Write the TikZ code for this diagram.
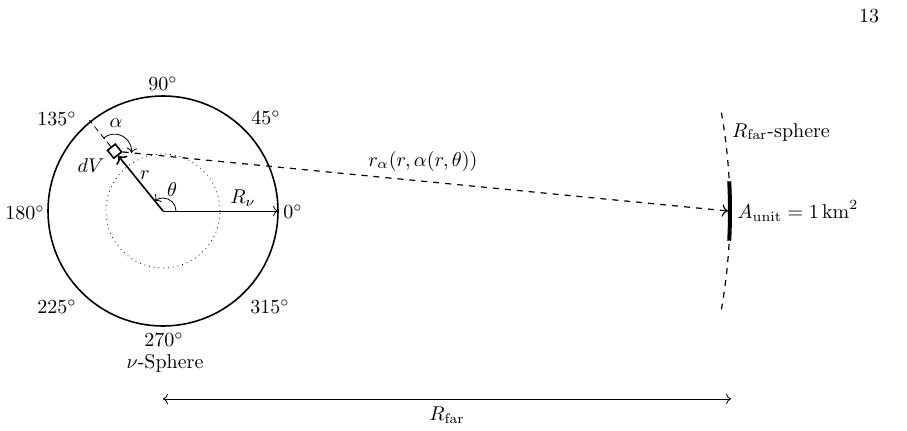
\documentclass[tikz,border=0pt]{standalone}
\usetikzlibrary{arrows.meta,calc}
\begin{document}
\begin{tikzpicture}[x=0.5pt,y=0.5pt,
  lbl/.style={inner sep=0,anchor=center},
  dvbox/.style={draw,thick,minimum size=5pt,inner sep=0,rotate=39}]
\useasboundingbox (0,0) rectangle (907,430);
\coordinate (C) at (163,219);
% main sphere
\draw[thick] (C) circle[radius=115];
\draw[dotted] (C) circle[radius=57];
% volume element
\node[dvbox] (dV) at ($(C)+(129:77)$) {};
\coordinate (P) at ($(C)+(129:117)$);
\coordinate (E) at ($(C)+(0:115)$);
\coordinate (Tin) at ($(C)+(0:565)$);
% far sphere
\draw[semithick,dashed] ($(C)+(10:567)$) arc[start angle=10,end angle=-10,radius=567];
\draw[line width=2pt] ($(C)+(3:567)$) arc[start angle=3,end angle=-3,radius=567];
% connectors
\draw[densely dashed] (dV) -- (P);
\draw[thick,->] (C) -- (dV);
\draw[->] (C) -- (E);
\draw[semithick,dashed,->] (dV) -- (Tin);
\draw[->] ($(C)+(0:13)$) arc[start angle=0,end angle=129,radius=13];
\draw[->] ($(dV)+(129:17)$) arc[start angle=129,end angle=-6,radius=17];
% R_far arrow
\coordinate (La) at (163,31);
\coordinate (Lb) at (731,31);
\draw[<->] (La) -- (Lb);
% labels
\node[lbl] (l90) at (163,346) {$90^\circ$};
\node[lbl] (l45) at (266,312) {$45^\circ$};
\node[lbl] (l135) at (57,311) {$135^\circ$};
\node[lbl] (l180) at (25,217) {$180^\circ$};
\node[lbl] (l0) at (293,218) {$0^\circ$};
\node[lbl] (l225) at (57,123) {$225^\circ$};
\node[lbl] (l315) at (270,123) {$315^\circ$};
\node[lbl] (l270) at (164,90) {$270^\circ$};
\node[lbl] (lsph) at (165,67) {$\nu$-Sphere};
\node[lbl] (lRnu) at (243,232) {$R_\nu$};
\node[lbl] (lth) at (172,240) {$\theta$};
\node[lbl] (lr) at (145,255) {$r$};
\node[lbl] (ldV) at (91,264) {$dV$};
\node[lbl] (lal) at (116,307) {$\alpha$};
\node[lbl] (lra) at (423,269) {$r_\alpha(r,\alpha(r,\theta))$};
\node[lbl] (lfs) at (781,298) {$R_{\mathrm{far}}$-sphere};
\node[lbl] (lA) at (798,219) {$A_{\mathrm{unit}} = 1\,\mathrm{km}^2$};
\node[lbl] (lRf) at (447,15) {$R_{\mathrm{far}}$};
\node[lbl] (pg) at (869,414) {13};
\end{tikzpicture}
\end{document}
